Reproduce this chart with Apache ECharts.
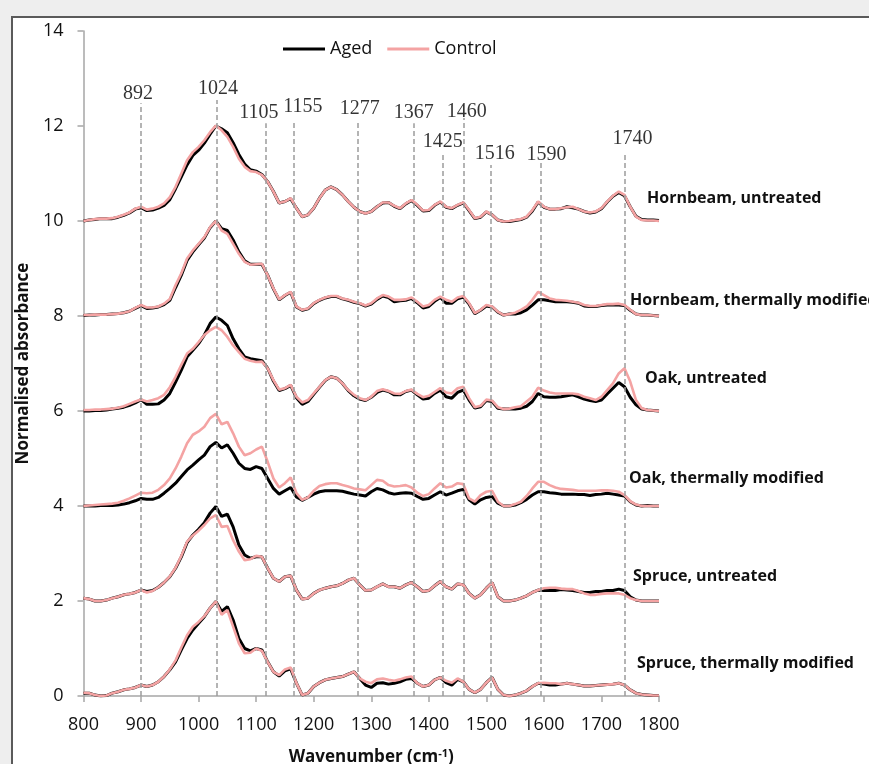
<!DOCTYPE html>
<html>
<head>
<meta charset="utf-8">
<script src="https://cdn.jsdelivr.net/npm/echarts@6/dist/echarts.min.js"></script>
<style>
html,body{margin:0;padding:0;background:#eeeeee;}
#chart{width:869px;height:764px;}
</style>
</head>
<body>
<div id="chart"></div>
<script>
// ---- DATA ----
const wavenumbers = [
  800,810,820,830,840,850,860,870,880,890,
  900,910,920,930,940,950,960,970,980,990,
  1000,1010,1020,1030,1040,1050,1060,1070,1080,1090,
  1100,1110,1120,1130,1140,1150,1160,1170,1180,1190,
  1200,1210,1220,1230,1240,1250,1260,1270,1280,1290,
  1300,1310,1320,1330,1340,1350,1360,1370,1380,1390,
  1400,1410,1420,1430,1440,1450,1460,1470,1480,1490,
  1500,1510,1520,1530,1540,1550,1560,1570,1580,1590,
  1600,1610,1620,1630,1640,1650,1660,1670,1680,1690,
  1700,1710,1720,1730,1740,1750,1760,1770,1780,1790,
  1800
];

const hornbeamUntreatedAged = [
  10.00,10.02,10.03,10.05,10.05,10.05,10.08,10.12,10.17,10.25,
  10.28,10.22,10.23,10.27,10.33,10.45,10.68,10.93,11.18,11.38,
  11.49,11.64,11.83,12.00,11.94,11.86,11.65,11.40,11.20,11.08,
  11.05,10.98,10.83,10.62,10.38,10.41,10.47,10.27,10.09,10.13,
  10.27,10.48,10.65,10.72,10.66,10.55,10.41,10.29,10.20,10.16,
  10.20,10.30,10.38,10.39,10.31,10.26,10.36,10.43,10.33,10.21,
  10.22,10.33,10.40,10.29,10.26,10.33,10.38,10.22,10.05,10.08,
  10.19,10.13,10.02,9.99,9.99,10.01,10.03,10.08,10.21,10.40,
  10.29,10.25,10.25,10.26,10.30,10.28,10.25,10.20,10.17,10.19,
  10.26,10.40,10.52,10.60,10.53,10.30,10.10,10.03,10.02,10.02,
  10.01
];
const hornbeamUntreatedControl = [
  10.00,10.02,10.04,10.05,10.05,10.06,10.09,10.13,10.18,10.26,
  10.30,10.24,10.26,10.30,10.37,10.50,10.72,11.00,11.28,11.45,
  11.56,11.70,11.87,12.01,11.91,11.77,11.56,11.31,11.14,11.05,
  11.03,10.97,10.83,10.62,10.38,10.41,10.48,10.27,10.09,10.13,
  10.27,10.48,10.65,10.72,10.66,10.55,10.41,10.29,10.20,10.16,
  10.20,10.30,10.39,10.39,10.32,10.27,10.37,10.44,10.34,10.22,
  10.23,10.34,10.41,10.30,10.27,10.34,10.39,10.23,10.06,10.09,
  10.20,10.13,10.02,9.99,10.00,10.02,10.04,10.09,10.23,10.41,
  10.30,10.25,10.25,10.27,10.29,10.30,10.25,10.20,10.18,10.20,
  10.27,10.41,10.53,10.62,10.55,10.30,10.09,10.02,10.01,10.01,
  10.00
];

const hornbeamModifiedAged = [
  8.01,8.02,8.02,8.03,8.03,8.04,8.05,8.07,8.10,8.16,
  8.22,8.16,8.17,8.19,8.24,8.33,8.60,8.86,9.17,9.35,
  9.50,9.64,9.86,10.00,9.84,9.80,9.60,9.35,9.16,9.09,
  9.09,9.09,8.86,8.57,8.34,8.43,8.50,8.19,8.12,8.15,
  8.26,8.33,8.38,8.41,8.41,8.36,8.33,8.29,8.26,8.21,
  8.25,8.35,8.42,8.39,8.30,8.32,8.33,8.37,8.28,8.17,
  8.20,8.31,8.39,8.27,8.27,8.36,8.40,8.25,8.05,8.12,
  8.21,8.19,8.08,8.02,8.04,8.04,8.07,8.13,8.23,8.34,
  8.34,8.32,8.30,8.30,8.30,8.29,8.27,8.21,8.20,8.20,
  8.22,8.23,8.23,8.23,8.22,8.12,8.04,8.02,8.02,8.01,
  8.00
];
const hornbeamModifiedControl = [
  8.02,8.02,8.03,8.03,8.03,8.04,8.05,8.07,8.10,8.17,
  8.23,8.18,8.18,8.20,8.26,8.36,8.65,8.90,9.21,9.38,
  9.52,9.66,9.87,10.00,9.80,9.73,9.52,9.31,9.14,9.08,
  9.09,9.10,8.86,8.58,8.35,8.44,8.51,8.20,8.13,8.16,
  8.27,8.34,8.39,8.42,8.42,8.37,8.34,8.30,8.27,8.22,
  8.27,8.37,8.44,8.41,8.34,8.34,8.35,8.39,8.30,8.20,
  8.23,8.34,8.41,8.34,8.30,8.39,8.42,8.27,8.06,8.13,
  8.23,8.20,8.09,8.02,8.04,8.07,8.13,8.20,8.34,8.51,
  8.44,8.37,8.34,8.33,8.32,8.30,8.28,8.23,8.21,8.21,
  8.23,8.25,8.25,8.26,8.23,8.13,8.04,8.02,8.02,8.01,
  8.00
];

const oakUntreatedAged = [
  6.00,6.00,6.01,6.01,6.02,6.04,6.06,6.08,6.12,6.17,
  6.24,6.14,6.14,6.15,6.23,6.37,6.61,6.86,7.14,7.28,
  7.42,7.60,7.84,7.98,7.91,7.80,7.52,7.31,7.14,7.10,
  7.08,7.06,6.90,6.63,6.43,6.47,6.54,6.28,6.14,6.20,
  6.35,6.50,6.64,6.72,6.69,6.58,6.43,6.32,6.25,6.22,
  6.29,6.39,6.44,6.41,6.34,6.34,6.41,6.44,6.34,6.25,
  6.27,6.37,6.44,6.30,6.27,6.39,6.44,6.23,6.06,6.09,
  6.22,6.20,6.06,6.04,6.04,6.04,6.06,6.10,6.20,6.37,
  6.30,6.29,6.29,6.30,6.32,6.34,6.30,6.25,6.22,6.20,
  6.23,6.36,6.48,6.60,6.51,6.29,6.13,6.04,6.02,6.01,
  6.00
];
const oakUntreatedControl = [
  6.02,6.02,6.03,6.03,6.04,6.05,6.07,6.10,6.15,6.20,
  6.24,6.20,6.23,6.27,6.34,6.50,6.72,6.97,7.21,7.31,
  7.45,7.60,7.70,7.77,7.70,7.56,7.38,7.24,7.10,7.06,
  7.03,7.04,6.90,6.65,6.45,6.48,6.55,6.30,6.18,6.23,
  6.37,6.51,6.65,6.72,6.69,6.58,6.44,6.34,6.27,6.23,
  6.30,6.42,6.46,6.42,6.37,6.36,6.42,6.45,6.36,6.29,
  6.32,6.40,6.48,6.39,6.37,6.48,6.51,6.27,6.08,6.11,
  6.24,6.22,6.08,6.04,6.05,6.08,6.10,6.20,6.30,6.49,
  6.43,6.39,6.37,6.37,6.37,6.37,6.35,6.30,6.27,6.23,
  6.30,6.44,6.58,6.79,6.90,6.62,6.23,6.06,6.02,6.01,
  6.00
];

const oakModifiedAged = [
  4.00,4.00,4.00,4.01,4.01,4.01,4.02,4.04,4.07,4.11,
  4.16,4.14,4.14,4.18,4.27,4.37,4.48,4.62,4.76,4.86,
  4.97,5.07,5.25,5.34,5.22,5.29,5.11,4.90,4.79,4.77,
  4.83,4.79,4.58,4.37,4.25,4.32,4.39,4.19,4.12,4.18,
  4.25,4.30,4.32,4.32,4.32,4.31,4.28,4.25,4.23,4.21,
  4.30,4.37,4.34,4.28,4.25,4.27,4.28,4.27,4.20,4.14,
  4.16,4.23,4.30,4.23,4.27,4.32,4.35,4.13,4.04,4.13,
  4.18,4.20,4.06,4.00,4.00,4.02,4.07,4.14,4.23,4.30,
  4.30,4.28,4.27,4.25,4.25,4.25,4.24,4.24,4.22,4.24,
  4.25,4.27,4.25,4.23,4.21,4.09,4.02,4.00,4.01,4.00,
  4.00
];
const oakModifiedControl = [
  4.00,4.01,4.02,4.03,4.04,4.05,4.07,4.11,4.16,4.22,
  4.28,4.27,4.28,4.34,4.44,4.58,4.79,5.04,5.32,5.50,
  5.57,5.67,5.85,5.94,5.72,5.77,5.53,5.25,5.07,5.11,
  5.19,5.25,4.93,4.58,4.39,4.48,4.60,4.27,4.13,4.18,
  4.32,4.42,4.46,4.48,4.48,4.44,4.41,4.37,4.35,4.33,
  4.44,4.55,4.53,4.44,4.41,4.42,4.44,4.39,4.28,4.21,
  4.25,4.37,4.48,4.39,4.41,4.48,4.46,4.16,4.09,4.23,
  4.30,4.32,4.09,4.00,4.00,4.04,4.09,4.21,4.37,4.51,
  4.51,4.44,4.39,4.36,4.35,4.34,4.32,4.32,4.32,4.32,
  4.33,4.33,4.32,4.30,4.23,4.10,4.03,4.00,4.00,4.00,
  4.00
];

const spruceUntreatedAged = [
  2.06,2.04,2.00,2.00,2.02,2.06,2.09,2.13,2.15,2.18,
  2.23,2.20,2.22,2.29,2.39,2.51,2.69,2.93,3.23,3.39,
  3.51,3.65,3.85,3.99,3.78,3.83,3.56,3.18,2.97,2.90,
  2.93,2.93,2.69,2.48,2.41,2.51,2.53,2.23,2.04,2.06,
  2.16,2.23,2.27,2.30,2.32,2.37,2.44,2.48,2.34,2.22,
  2.23,2.30,2.36,2.30,2.30,2.27,2.34,2.39,2.30,2.20,
  2.22,2.32,2.41,2.30,2.25,2.36,2.34,2.16,2.06,2.13,
  2.27,2.39,2.09,2.00,2.00,2.02,2.06,2.11,2.18,2.23,
  2.22,2.22,2.22,2.24,2.23,2.22,2.20,2.18,2.18,2.20,
  2.20,2.22,2.22,2.25,2.22,2.09,2.02,2.00,2.00,2.00,
  2.00
];
const spruceUntreatedControl = [
  2.06,2.04,2.00,2.00,2.02,2.06,2.09,2.13,2.15,2.18,
  2.23,2.18,2.21,2.29,2.39,2.52,2.70,2.95,3.25,3.38,
  3.48,3.60,3.74,3.81,3.56,3.58,3.28,3.04,2.86,2.88,
  2.95,2.93,2.69,2.48,2.41,2.51,2.53,2.23,2.04,2.06,
  2.16,2.23,2.27,2.30,2.32,2.37,2.44,2.48,2.34,2.22,
  2.23,2.30,2.36,2.30,2.30,2.27,2.34,2.39,2.30,2.20,
  2.22,2.32,2.41,2.30,2.25,2.36,2.34,2.16,2.06,2.13,
  2.27,2.39,2.09,2.00,2.00,2.02,2.06,2.11,2.18,2.23,
  2.27,2.28,2.28,2.26,2.25,2.25,2.21,2.16,2.13,2.13,
  2.15,2.16,2.16,2.16,2.13,2.06,2.02,2.00,2.00,2.00,
  2.00
];

const spruceModifiedAged = [
  0.06,0.06,0.02,0.00,0.01,0.06,0.09,0.13,0.15,0.18,
  0.23,0.20,0.23,0.30,0.41,0.55,0.72,0.97,1.21,1.39,
  1.53,1.67,1.85,1.99,1.78,1.88,1.60,1.21,1.00,0.95,
  1.00,0.97,0.72,0.51,0.42,0.53,0.57,0.27,0.02,0.06,
  0.20,0.28,0.34,0.37,0.39,0.41,0.46,0.51,0.37,0.23,
  0.18,0.27,0.28,0.25,0.27,0.30,0.35,0.37,0.27,0.20,
  0.23,0.34,0.39,0.28,0.23,0.35,0.30,0.14,0.07,0.14,
  0.28,0.39,0.14,0.02,0.00,0.02,0.06,0.11,0.20,0.27,
  0.25,0.23,0.23,0.25,0.27,0.25,0.23,0.21,0.21,0.22,
  0.23,0.24,0.25,0.27,0.23,0.13,0.06,0.03,0.02,0.01,
  0.01
];
const spruceModifiedControl = [
  0.07,0.06,0.02,0.00,0.01,0.06,0.09,0.13,0.15,0.18,
  0.23,0.20,0.23,0.30,0.41,0.56,0.75,1.02,1.28,1.46,
  1.56,1.68,1.85,1.99,1.71,1.81,1.46,1.11,0.90,0.91,
  1.00,0.95,0.72,0.51,0.44,0.56,0.60,0.27,0.02,0.06,
  0.20,0.28,0.34,0.37,0.39,0.41,0.46,0.51,0.37,0.30,
  0.27,0.35,0.37,0.34,0.32,0.35,0.39,0.41,0.27,0.20,
  0.23,0.34,0.39,0.32,0.28,0.37,0.30,0.14,0.07,0.14,
  0.28,0.39,0.14,0.02,0.00,0.02,0.06,0.11,0.20,0.27,
  0.28,0.27,0.27,0.25,0.27,0.25,0.23,0.21,0.21,0.22,
  0.23,0.24,0.25,0.27,0.23,0.13,0.06,0.03,0.02,0.01,
  0.01
];

const sampleNames = [
  'Hornbeam, untreated','Hornbeam, thermally modified',
  'Oak, untreated','Oak, thermally modified',
  'Spruce, untreated','Spruce, thermally modified'
];
const agedSeries = [hornbeamUntreatedAged, hornbeamModifiedAged, oakUntreatedAged, oakModifiedAged, spruceUntreatedAged, spruceModifiedAged];
const controlSeries = [hornbeamUntreatedControl, hornbeamModifiedControl, oakUntreatedControl, oakModifiedControl, spruceUntreatedControl, spruceModifiedControl];
const legendNames = ['Aged','Control'];

// Peak annotations (labels as printed, lines where they are drawn)
const peakLabels = ['892','1024','1105','1155','1277','1367','1425','1460','1516','1590','1740'];
const peakLineWavenumbers = [899,1032,1116,1166,1277,1374,1425,1461,1507,1594,1740];

const yTicks = [0,2,4,6,8,10,12,14];
const xTicks = [800,900,1000,1100,1200,1300,1400,1500,1600,1700,1800];

// ---- LAYOUT (annotation placement, in axis units) ----
const peakLineTop = [12.48,12.55,12.06,12.11,12.11,12.06,11.39,12.17,11.18,11.22,11.45];
const peakLabelAnchor = [
  [894.6,12.68],[1033.5,12.79],[1104.7,12.28],[1181,12.41],[1280,12.37],
  [1373.8,12.28],[1424.1,11.67],[1465.8,12.31],[1514.4,11.42],[1604.7,11.40],[1754,11.74]
];
const sampleLabelPx = [[647,198],[630,300],[645,378],[629,478],[633,576],[637,663]];

const FONT = '"Open Sans", "Liberation Sans", sans-serif';
const BLACK = '#000000';
const PINK = '#f4a3a3';

function pairs(ys){ return wavenumbers.map((w,i)=>[w, ys[i]]); }

const series = [];
series.push({
  type:'line', name:'peakLines', data:[], silent:true, z:1,
  markLine:{
    symbol:'none', silent:true, animation:false,
    lineStyle:{color:'#9c9c9c', type:[5,3], width:1.5},
    label:{show:false},
    emphasis:{disabled:true},
    data: peakLineWavenumbers.map((x,i)=>[{coord:[x,0]},{coord:[x,peakLineTop[i]]}])
  }
});
for(let i=0;i<6;i++){
  series.push({
    type:'line', name:'Aged', data:pairs(agedSeries[i]), showSymbol:false, symbol:'none',
    lineStyle:{color:BLACK, width:3}, itemStyle:{color:BLACK}, z:3, silent:true
  });
  series.push({
    type:'line', name:'Control', data:pairs(controlSeries[i]), showSymbol:false, symbol:'none',
    lineStyle:{color:PINK, width:2.6}, itemStyle:{color:PINK}, z:4, silent:true
  });
}
series.push({
  type:'scatter', name:'peakLabels', symbolSize:1, silent:true, z:5,
  itemStyle:{color:'rgba(0,0,0,0)'},
  data: peakLabelAnchor.map((p,i)=>({value:p, name:peakLabels[i]})),
  label:{show:true, position:'inside', formatter: p=>p.name,
    fontFamily:'"Liberation Serif", "Times New Roman", serif', fontSize:20, color:'#000'}
});

const graphics = [
  {type:'rect', z:-100, silent:true, shape:{x:12, y:17, width:900, height:800},
   style:{fill:'#ffffff', stroke:'#5a5a5a', lineWidth:2}}
];
sampleNames.forEach((n,i)=>{
  graphics.push({type:'text', x:sampleLabelPx[i][0], y:sampleLabelPx[i][1], silent:true, z:10,
    style:{text:n, fill:'#111', fontFamily:FONT, fontSize:16, fontWeight:'bold', verticalAlign:'middle', align:'left'}});
});

const chart = echarts.init(document.getElementById('chart'), null, {renderer:'canvas'});
chart.setOption({
  animation:false,
  backgroundColor:'#eeeeee',
  grid:{left:83.5, right:210, top:31, bottom:68, containLabel:false, outerBoundsMode:'none'},
  legend:{
    data:legendNames, left:283, top:40, padding:0, icon:'rect', itemWidth:42, itemHeight:3, itemGap:15,
    textStyle:{fontFamily:FONT, fontSize:18, color:'#111'}, selectedMode:false
  },
  xAxis:{
    type:'value', min:xTicks[0], max:xTicks[xTicks.length-1], interval:100,
    axisLine:{show:true, lineStyle:{color:'#a6a6a6', width:1.5}},
    axisTick:{show:true, length:6, lineStyle:{color:'#a6a6a6', width:1.5}},
    splitLine:{show:false},
    axisLabel:{color:'#111', fontFamily:FONT, fontSize:18, margin:20, formatter:v=>String(v)},
    name:'Wavenumber (cm{sup|-1})', nameLocation:'middle', nameGap:52,
    nameTextStyle:{color:'#111', fontFamily:FONT, fontSize:17, fontWeight:'bold',
      rich:{sup:{fontFamily:FONT, fontSize:11, fontWeight:'bold', color:'#111', padding:[0,0,8,0]}}}
  },
  yAxis:{
    type:'value', min:yTicks[0], max:yTicks[yTicks.length-1], interval:2,
    axisLine:{show:true, lineStyle:{color:'#a6a6a6', width:1.5}},
    axisTick:{show:true, length:6, lineStyle:{color:'#a6a6a6', width:1.5}},
    splitLine:{show:false},
    axisLabel:{color:'#111', fontFamily:FONT, fontSize:18, margin:20, formatter:v=>String(v)},
    name:'Normalised absorbance', nameLocation:'middle', nameGap:52, nameRotate:90,
    nameTextStyle:{color:'#111', fontFamily:FONT, fontSize:17, fontWeight:'bold'}
  },
  graphic:graphics,
  series:series
});
</script>
</body>
</html>
